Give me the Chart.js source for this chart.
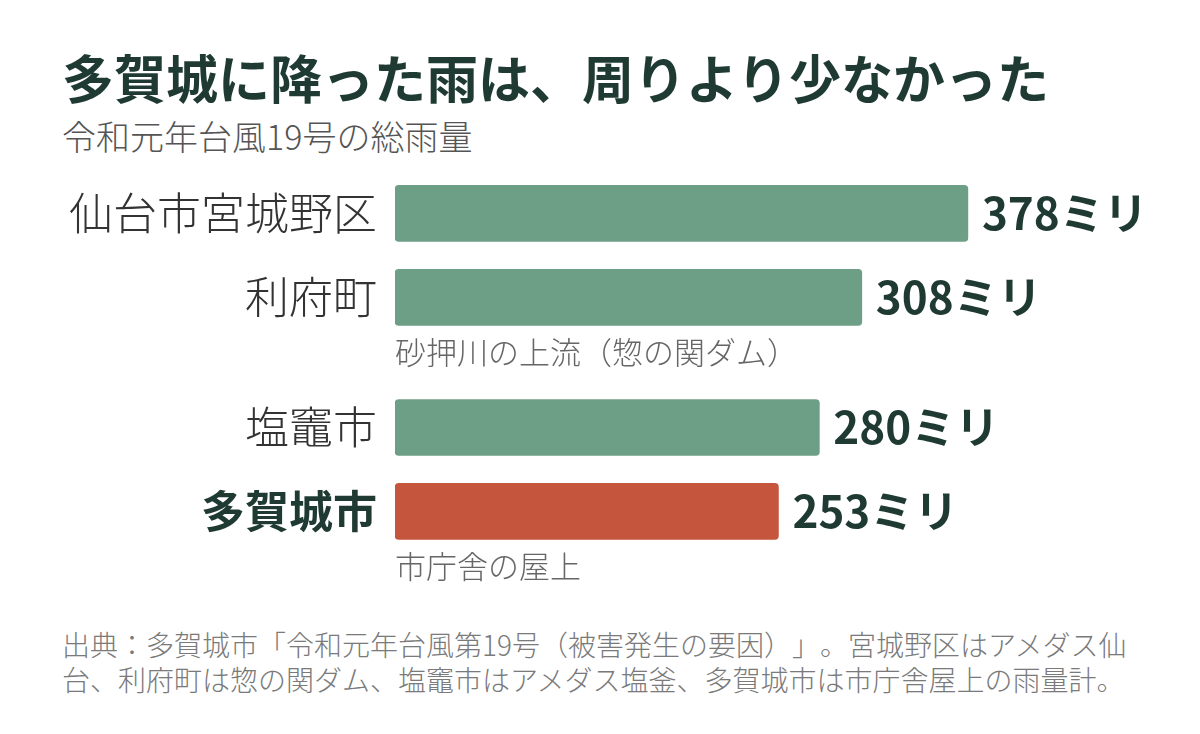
<!DOCTYPE html>
<html>
  <head>
    <meta charset="utf-8" />
    <title>多賀城に降った雨</title>
    <script src="https://cdn.jsdelivr.net/npm/chart.js@4"></script>
    <style>
      body {
        margin: 0;
        width: 1200px;
        height: 734px;
        background: #fff;
        position: relative;
        overflow: hidden;
        font-family: "Noto Sans CJK JP", sans-serif;
        text-spacing-trim: space-all;
      }
      #title {
        position: absolute;
        left: 62px;
        top: 46px;
        font-size: 52px;
        line-height: 62px;
        font-weight: 700;
        color: #1f3a32;
        white-space: nowrap;
      }
      #subtitle {
        position: absolute;
        left: 62px;
        top: 116px;
        font-size: 34px;
        line-height: 40px;
        font-weight: 300;
        color: #555;
        white-space: nowrap;
      }
      #chartBox {
        position: absolute;
        left: 0;
        top: 160px;
        width: 1200px;
        height: 440px;
      }
      #source {
        position: absolute;
        left: 62px;
        top: 627px;
        width: 1130px;
        font-size: 28px;
        line-height: 35px;
        font-weight: 300;
        color: #7a7a7a;
        white-space: nowrap;
      }
    </style>
  </head>
  <body>
    <div id="title">多賀城に降った雨は、周りより少なかった</div>
    <div id="subtitle">令和元年台風19号の総雨量</div>
    <div id="chartBox"><canvas id="rainChart"></canvas></div>
    <div id="source">
      出典：多賀城市「令和元年台風第19号（被害発生の要因）」。宮城野区はアメダス仙<br />台、利府町は惣の関ダム、塩竈市はアメダス塩釜、多賀城市は市庁舎屋上の雨量計。
    </div>

    <script>
      // data
      const places = ["仙台市宮城野区", "利府町", "塩竈市", "多賀城市"];
      const rainfall = [378, 308, 280, 253];
      const notes = ["", "砂押川の上流（惣の関ダム）", "", "市庁舎の屋上"];
      const highlight = [false, false, false, true];
      const unit = "ミリ";

      const GREEN = "#6d9e86";
      const RED = "#c6553e";
      const DARK = "#1f3a32";

      // a row with a note under it pushes the next row down a bit
      const noteGap = 0.55;
      const rowPos = [];
      places.forEach((p, i) => {
        if (i === 0) rowPos.push(0);
        else rowPos.push(rowPos[i - 1] + 1 + (notes[i - 1] ? noteGap : 0));
      });

      const labelPlugin = {
        id: "labels",
        afterDatasetsDraw(chart) {
          const ctx = chart.ctx;
          const xs = chart.scales.x;
          const ys = chart.scales.y;
          ctx.save();
          ctx.textBaseline = "middle";
          places.forEach((name, i) => {
            const y = ys.getPixelForValue(rowPos[i]);
            // category name
            ctx.textAlign = "right";
            ctx.fillStyle = highlight[i] ? DARK : "#333";
            ctx.font =
              (highlight[i] ? "700 " : "300 ") +
              '44px "Noto Sans CJK JP"';
            ctx.fillText(name, xs.getPixelForValue(0) - 18, y);
            // value
            ctx.textAlign = "left";
            ctx.fillStyle = DARK;
            ctx.font = '700 44px "Noto Sans CJK JP"';
            ctx.fillText(rainfall[i] + unit, xs.getPixelForValue(rainfall[i]) + 14, y);
            // note under the bar
            if (notes[i]) {
              ctx.fillStyle = "#666";
              ctx.font = '300 31px "Noto Sans CJK JP"';
              ctx.fillText(notes[i], xs.getPixelForValue(0), y + 55);
            }
          });
          ctx.restore();
        },
      };

      new Chart(document.getElementById("rainChart"), {
        type: "bar",
        data: {
          datasets: [
            {
              data: rainfall.map((v, i) => ({ x: v, y: rowPos[i] })),
              backgroundColor: highlight.map((h) => (h ? RED : GREEN)),
              borderRadius: 4,
              borderSkipped: false,
              barThickness: 56,
            },
          ],
        },
        options: {
          indexAxis: "y",
          responsive: true,
          maintainAspectRatio: false,
          animation: false,
          layout: { padding: { left: 395, right: 123, top: 3, bottom: 34 } },
          plugins: {
            legend: { display: false },
            tooltip: { enabled: false },
          },
          scales: {
            x: {
              type: "linear",
              min: 0,
              max: 450,
              display: false,
            },
            y: {
              type: "linear",
              reverse: true,
              offset: false,
              min: -0.6,
              max: 4.2,
              display: false,
            },
          },
        },
        plugins: [labelPlugin],
      });
    </script>
  </body>
</html>
